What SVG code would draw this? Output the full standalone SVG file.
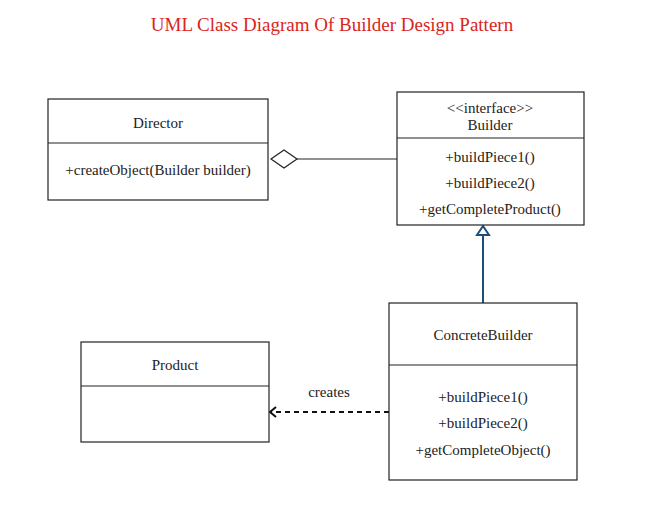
<svg xmlns="http://www.w3.org/2000/svg" width="652" height="508" viewBox="0 0 652 508">
<style>
text{font-family:"Liberation Serif","DejaVu Serif",serif;font-size:15px;fill:#222;text-anchor:middle}
.title{font-size:19px;fill:#d9251c}
.box{fill:#fff;stroke:#222;stroke-width:1.2}
.div{stroke:#222;stroke-width:1.2}
</style>
<rect width="652" height="508" fill="#fff"/>
<text class="title" x="332" y="31">UML Class Diagram Of Builder Design Pattern</text>
<g id="connectors">
<path d="M297,159 L397,159" stroke="#222" stroke-width="1.2" fill="none"/>
<path d="M271,159 L284,150 L297,159 L284,168 Z" fill="#fff" stroke="#222" stroke-width="1.2"/>
<path d="M483,303 L483,235" stroke="#1d4f7a" stroke-width="2" fill="none"/>
<path d="M483,226 L477,235 L489,235 Z" fill="#fff" stroke="#1d4f7a" stroke-width="2"/>
<path d="M389,412 L271,412" stroke="#111" stroke-width="2" stroke-dasharray="5,4" fill="none"/>
<path d="M276,407 L270,412 L276,417" stroke="#111" stroke-width="2" fill="none"/>
<text x="329" y="397">creates</text>
</g>
<g id="director">
<rect class="box" x="48" y="99" width="220" height="101"/>
<line class="div" x1="48" y1="143" x2="268" y2="143"/>
<text x="158" y="128">Director</text>
<text x="158" y="175">+createObject(Builder builder)</text>
</g>
<g id="builder">
<rect class="box" x="397" y="92" width="187" height="133"/>
<line class="div" x1="397" y1="138" x2="584" y2="138"/>
<text x="490" y="113">&lt;&lt;interface&gt;&gt;</text>
<text x="490" y="130">Builder</text>
<text x="490" y="162">+buildPiece1()</text>
<text x="490" y="188">+buildPiece2()</text>
<text x="490" y="214">+getCompleteProduct()</text>
</g>
<g id="concretebuilder">
<rect class="box" x="389" y="303" width="188" height="177"/>
<line class="div" x1="389" y1="365" x2="577" y2="365"/>
<text x="483" y="340">ConcreteBuilder</text>
<text x="483" y="402">+buildPiece1()</text>
<text x="483" y="428">+buildPiece2()</text>
<text x="483" y="455">+getCompleteObject()</text>
</g>
<g id="product">
<rect class="box" x="81" y="342" width="188" height="100"/>
<line class="div" x1="81" y1="386" x2="269" y2="386"/>
<text x="175" y="370">Product</text>
</g>
</svg>
